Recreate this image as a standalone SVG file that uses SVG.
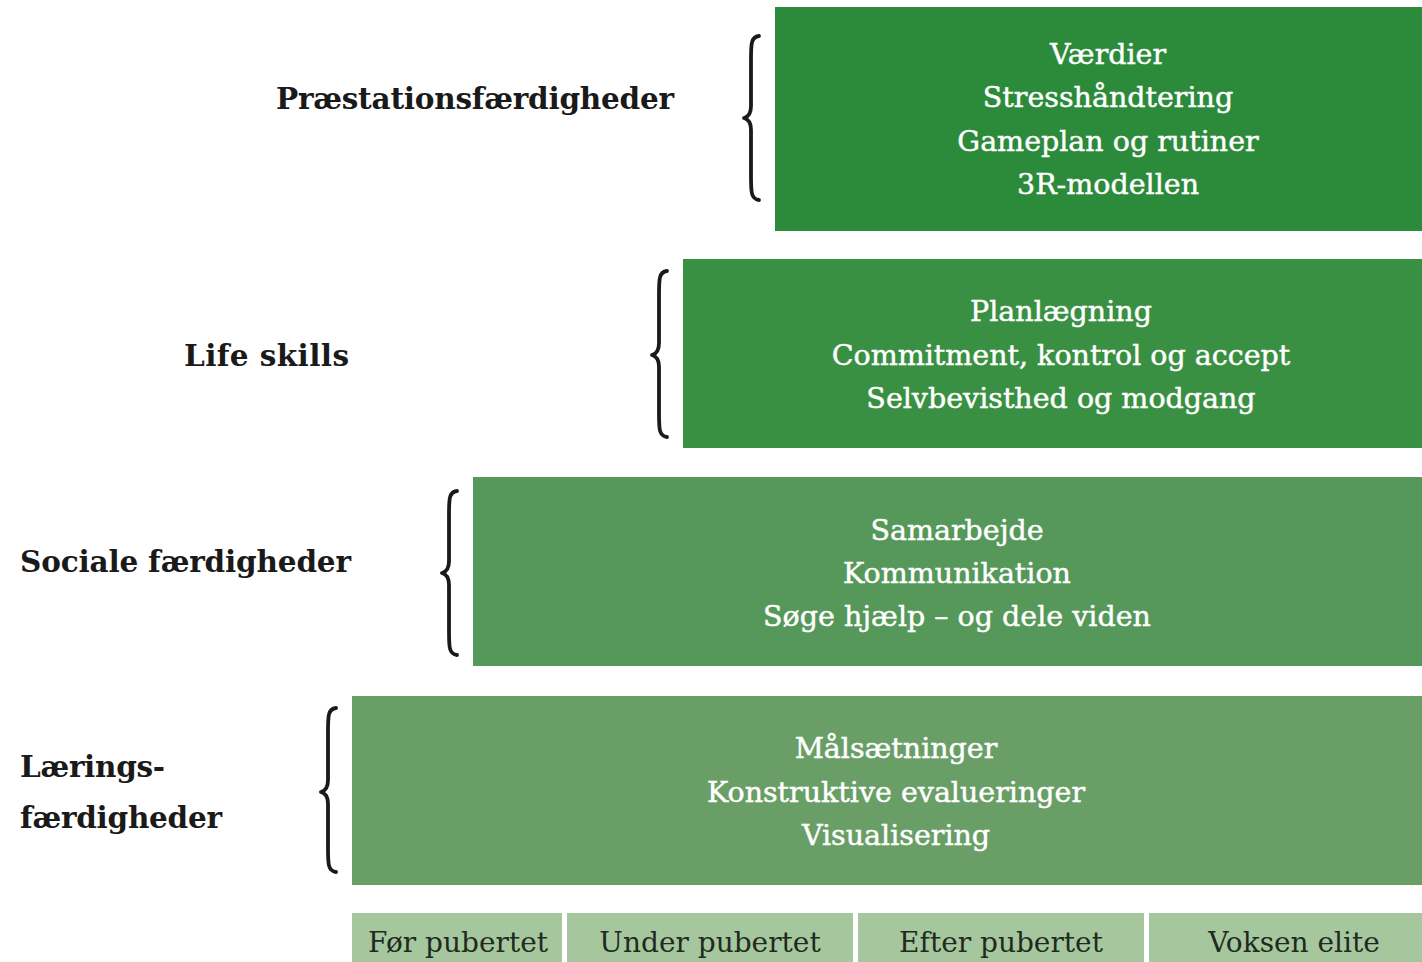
<svg xmlns="http://www.w3.org/2000/svg" width="1422" height="962" viewBox="0 0 1422 962">
  <style>
    .band text { font-family: "DejaVu Serif", "Liberation Serif", serif; font-size: 28.5px; fill: #ffffff; stroke: #ffffff; stroke-width: 0.45; text-anchor: middle; }
    .label { font-family: "DejaVu Serif", "Liberation Serif", serif; font-size: 29.5px; font-weight: bold; fill: #1a1a1a; }
    .brace { fill: none; stroke: #1a1a1a; stroke-width: 3.8; stroke-linecap: round; stroke-linejoin: round; }
    .stage rect { fill: #a6c79e; }
    .stage text { font-family: "DejaVu Serif", "Liberation Serif", serif; font-size: 28px; fill: #1e2b1e; text-anchor: middle; }
  </style>
  <rect width="1422" height="962" fill="#ffffff"/>

  <!-- Performance skills -->
  <g id="praestation" class="band">
    <rect x="775" y="7" width="647" height="224" fill="#2c8a3b"/>
    <text x="1108" y="64">Værdier</text>
    <text x="1108" y="107">Stresshåndtering</text>
    <text x="1108" y="151">Gameplan og rutiner</text>
    <text x="1108" y="194">3R-modellen</text>
  </g>
  <!-- Life skills -->
  <g id="lifeskills" class="band">
    <rect x="683" y="259" width="739" height="189" fill="#3a9042"/>
    <text x="1061" y="321">Planlægning</text>
    <text x="1061" y="365">Commitment, kontrol og accept</text>
    <text x="1061" y="408">Selvbevisthed og modgang</text>
  </g>
  <!-- Social skills -->
  <g id="sociale" class="band">
    <rect x="473" y="477" width="949" height="189" fill="#56985a"/>
    <text x="957" y="540">Samarbejde</text>
    <text x="957" y="583">Kommunikation</text>
    <text x="957" y="626">Søge hjælp – og dele viden</text>
  </g>
  <!-- Learning skills -->
  <g id="laerings" class="band">
    <rect x="352" y="696" width="1070" height="189" fill="#699f66"/>
    <text x="896" y="758">Målsætninger</text>
    <text x="896" y="802">Konstruktive evalueringer</text>
    <text x="896" y="845">Visualisering</text>
  </g>

  <!-- Side labels -->
  <g id="labels">
    <text class="label" x="276" y="109" textLength="398">Præstationsfærdigheder</text>
    <text class="label" x="184" y="366" textLength="165">Life skills</text>
    <text class="label" x="20" y="572" textLength="331">Sociale færdigheder</text>
    <text class="label" x="20" y="777" textLength="145">Lærings-</text>
    <text class="label" x="20" y="828" textLength="202">færdigheder</text>
  </g>

  <!-- Curly braces -->
  <g id="braces">
    <path class="brace" d="M759,36 C751,37 751,44 751,60 L751,106 C751,114 748,117 744,118 C748,119 751,122 751,130 L751,176 C751,192 751,199 759,200"/>
    <path class="brace" d="M667,271 C659,272 659,279 659,295 L659,343 C659,351 656,354 652,355 C656,356 659,359 659,367 L659,413 C659,429 659,436 667,437"/>
    <path class="brace" d="M457,491 C449,492 449,499 449,515 L449,561 C449,569 446,572 442,573 C446,574 449,577 449,585 L449,631 C449,647 449,654 457,655"/>
    <path class="brace" d="M336,708 C328,709 328,716 328,732 L328,780 C328,788 325,791 321,792 C325,793 328,796 328,804 L328,848 C328,864 328,871 336,872"/>
  </g>

  <!-- Age stages -->
  <g id="stages" class="stage">
    <rect x="352" y="913" width="210" height="60"/>
    <rect x="567" y="913" width="286" height="60"/>
    <rect x="858" y="913" width="286" height="60"/>
    <rect x="1149" y="913" width="273" height="60"/>
    <text x="458" y="952">Før pubertet</text>
    <text x="710" y="952">Under pubertet</text>
    <text x="1001" y="952">Efter pubertet</text>
    <text x="1294" y="952">Voksen elite</text>
  </g>
</svg>
